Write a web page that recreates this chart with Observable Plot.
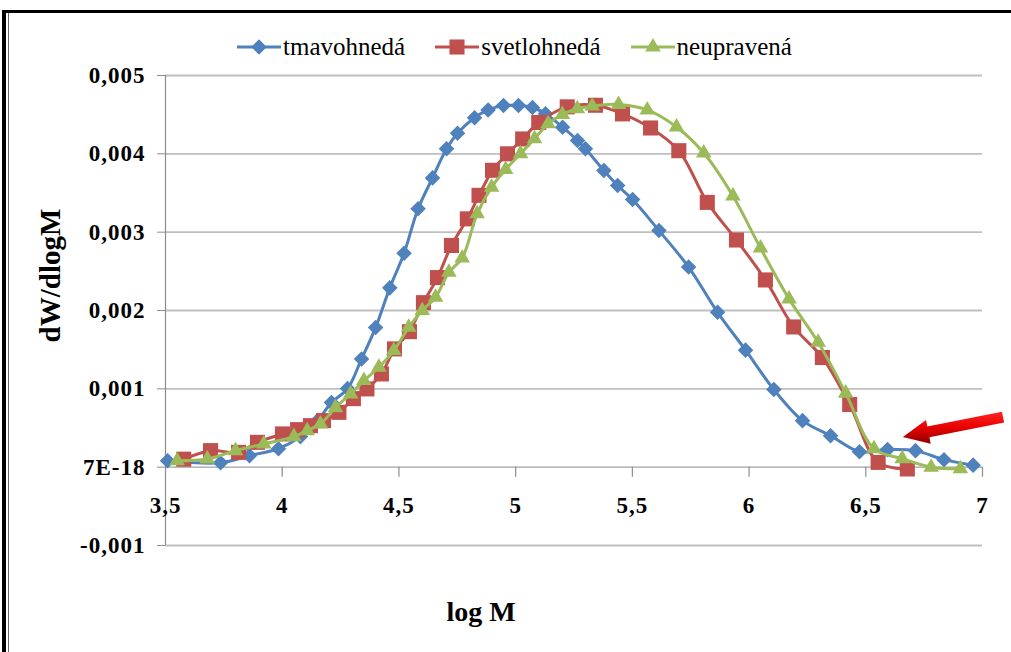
<!DOCTYPE html>
<html>
<head>
<meta charset="utf-8">
<script src="https://cdn.jsdelivr.net/npm/d3@7"></script>
<script src="https://cdn.jsdelivr.net/npm/@observablehq/plot@0.6"></script>
<style>
  html, body { margin: 0; padding: 0; background: #fff; }
  #wrap { position: relative; width: 1011px; height: 652px; overflow: hidden; background: #fff;
          font-family: "Liberation Serif", "Times New Roman", Times, "DejaVu Serif", "Noto Serif", serif; }
  #legendBox { position: relative; height: 60px; }
  #legend { position: absolute; top: 32px; left: 237px; height: 30px; display: flex; align-items: center;
            font-size: 25px; color: #000; white-space: nowrap; }
  .item { display: flex; align-items: center; margin-right: 30px; }
  .item svg { display: block; margin-right: 2px; }
  #chart svg { display: block; }
  #chart svg text { font-family: "Liberation Serif", "Times New Roman", Times, "DejaVu Serif", "Noto Serif", serif; }
  #chart svg .ticklab text { letter-spacing: 1px; }
  .bTop { position: absolute; top: 10px; left: 2px; right: 0; height: 3px; background: #000; }
  .bLeft { position: absolute; top: 10px; left: 2px; bottom: 0; width: 4px; background: #000; }
  .bLeft2 { position: absolute; top: 13px; left: 8px; bottom: 0; width: 1px; background: #666; }
</style>
</head>
<body>
<div id="wrap">
  <div id="legendBox"><div id="legend"></div></div>
  <div id="chart"></div>
  <div class="bTop"></div>
  <div class="bLeft"></div>
  <div class="bLeft2"></div>
</div>
<script>
// ---- data ----
const seriesNames = ["tmavohnedá", "svetlohnedá", "neupravená"];
const seriesColors = ["#4F81BD", "#C0504D", "#9BBB59"];
const seriesSymbols = ["diamond2", "square", "triangle"];

const blueX = [3.509, 3.736, 3.860, 3.984, 4.078, 4.151, 4.211, 4.280, 4.340, 4.400, 4.461, 4.522, 4.582, 4.644, 4.704, 4.751, 4.824, 4.882, 4.948, 5.012, 5.072, 5.128, 5.201, 5.265, 5.299, 5.378, 5.437, 5.501, 5.614, 5.741, 5.865, 5.985, 6.106, 6.229, 6.349, 6.473, 6.593, 6.713, 6.835, 6.960];
const blueY = [0.000083, 0.000057, 0.000147, 0.000236, 0.00039, 0.000594, 0.000824, 0.001003, 0.001382, 0.001782, 0.002289, 0.002731, 0.003298, 0.003693, 0.004064, 0.004263, 0.00446, 0.00456, 0.004617, 0.004617, 0.004591, 0.004511, 0.00434, 0.00417, 0.004064, 0.003787, 0.003595, 0.003416, 0.00302, 0.002554, 0.001977, 0.001494, 0.000992, 0.000594, 0.000402, 0.000198, 0.000224, 0.000211, 0.000096, 0.000026];

const redX = [3.578, 3.693, 3.813, 3.894, 4.001, 4.066, 4.121, 4.177, 4.243, 4.305, 4.363, 4.425, 4.481, 4.545, 4.605, 4.665, 4.725, 4.793, 4.843, 4.901, 4.965, 5.030, 5.099, 5.221, 5.342, 5.458, 5.578, 5.699, 5.821, 5.946, 6.070, 6.191, 6.314, 6.431, 6.553, 6.678];
const redY = [0.000102, 0.000211, 0.000189, 0.000317, 0.000424, 0.000479, 0.00053, 0.000594, 0.0007, 0.000875, 0.000999, 0.00119, 0.00151, 0.00173, 0.0021, 0.00242, 0.00283, 0.00317, 0.00347, 0.00379, 0.0040, 0.00419, 0.0044, 0.0046, 0.00462, 0.00451, 0.00433, 0.00404, 0.00338, 0.0029, 0.00239, 0.00179, 0.0014, 0.0008, 0.000061, -0.000023];

const greenX = [3.550, 3.679, 3.800, 3.921, 4.050, 4.107, 4.164, 4.228, 4.293, 4.350, 4.414, 4.478, 4.542, 4.600, 4.657, 4.714, 4.771, 4.835, 4.897, 4.957, 5.021, 5.081, 5.139, 5.200, 5.264, 5.328, 5.441, 5.564, 5.689, 5.806, 5.931, 6.049, 6.171, 6.296, 6.414, 6.535, 6.656, 6.780, 6.905];
const greenY = [0.000083, 0.000105, 0.000211, 0.000296, 0.00039, 0.000466, 0.000552, 0.00076, 0.000935, 0.001105, 0.001275, 0.001488, 0.001785, 0.001999, 0.002169, 0.002488, 0.002669, 0.003234, 0.003573, 0.0038, 0.004, 0.004192, 0.004383, 0.004502, 0.004575, 0.00461, 0.00463, 0.00456, 0.004342, 0.00401, 0.003461, 0.002797, 0.002148, 0.001594, 0.000945, 0.000236, 0.000109, 0.0, -0.000019];

const xDomain = [3.5, 7];
const yDomain = [-0.001, 0.005];
const xTicks = [3.5, 4, 4.5, 5, 5.5, 6, 6.5, 7];
const xTickLabels = ["3,5", "4", "4,5", "5", "5,5", "6", "6,5", "7"];
const yTicks = [-0.001, 0, 0.001, 0.002, 0.003, 0.004, 0.005];
const yTickLabels = ["-0,001", "7E-18", "0,001", "0,002", "0,003", "0,004", "0,005"];
const xTitle = "log M";
const yTitle = "dW/dlogM";
// annotation arrow (data units): from tail to tip
const arrowTail = [7.09, 0.000632];
const arrowTip = [6.661, 0.00038];

// ---- build ----
const serifStack = "'Liberation Serif', 'Times New Roman', Times, 'DejaVu Serif', 'Noto Serif', serif";
const seriesXs = [blueX, redX, greenX];
const seriesYs = [blueY, redY, greenY];
const seriesR = [7, 8.5, 5.8];
const seriesData = seriesNames.map((name, s) =>
  seriesXs[s].map((x, i) => ({series: name, x, y: seriesYs[s][i]})));

// legend
const symbolMap = {diamond2: d3.symbolDiamond2, square: d3.symbolSquare, triangle: d3.symbolTriangle};
const legend = d3.select("#legend");
seriesNames.forEach((name, s) => {
  const item = legend.append("div").attr("class", "item");
  const sv = item.append("svg").attr("width", 44).attr("height", 22);
  sv.append("line").attr("x1", 0).attr("x2", 44).attr("y1", 11).attr("y2", 11)
    .attr("stroke", seriesColors[s]).attr("stroke-width", 3);
  sv.append("path").attr("transform", "translate(22,11)")
    .attr("d", d3.symbol(symbolMap[seriesSymbols[s]], Math.PI * seriesR[s] * seriesR[s])())
    .attr("fill", seriesColors[s]);
  item.append("span").style("font-family", serifStack).text(name);
});

const arrowMark = (index, scales) => {
  const x1 = scales.x(arrowTail[0]), y1 = scales.y(arrowTail[1]);
  const x2 = scales.x(arrowTip[0]), y2 = scales.y(arrowTip[1]);
  const dx = x2 - x1, dy = y2 - y1, len = Math.hypot(dx, dy);
  const ux = dx / len, uy = dy / len, nx = -uy, ny = ux;
  const headLen = 26, headW = 12, shaftW = 5.5;
  const bx = x2 - ux * headLen, by = y2 - uy * headLen;
  const pts = [
    [x1 + nx * shaftW, y1 + ny * shaftW],
    [bx + nx * shaftW, by + ny * shaftW],
    [bx + nx * headW, by + ny * headW],
    [x2, y2],
    [bx - nx * headW, by - ny * headW],
    [bx - nx * shaftW, by - ny * shaftW],
    [x1 - nx * shaftW, y1 - ny * shaftW]
  ];
  const g = d3.create("svg:g");
  const grad = g.append("defs").append("linearGradient").attr("id", "arrowGrad")
    .attr("x1", 0).attr("y1", 0).attr("x2", 0).attr("y2", 1);
  grad.append("stop").attr("offset", "0%").attr("stop-color", "#FF2424");
  grad.append("stop").attr("offset", "50%").attr("stop-color", "#E80000");
  grad.append("stop").attr("offset", "100%").attr("stop-color", "#8E0000");
  g.append("path").attr("d", "M" + pts.map(p => p.join(",")).join("L") + "Z")
    .attr("fill", "url(#arrowGrad)");
  return g.node();
};

const seriesMarks = [];
seriesData.forEach((rows, s) => {
  seriesMarks.push(Plot.line(rows, {x: "x", y: "y", stroke: seriesColors[s], strokeWidth: 3, curve: "catmull-rom"}));
  seriesMarks.push(Plot.dot(rows, {x: "x", y: "y", symbol: seriesSymbols[s], r: seriesR[s], fill: seriesColors[s], stroke: "none"}));
});

const chart = Plot.plot({
  width: 1011,
  height: 592,
  marginTop: 15,
  marginBottom: 107,
  marginLeft: 165,
  marginRight: 29,
  style: {fontFamily: serifStack, fontSize: "23px", fontWeight: "bold", color: "#000", background: "transparent", overflow: "visible"},
  x: {domain: xDomain, axis: null},
  y: {domain: yDomain, axis: null},
  marks: [
    Plot.ruleY(yTicks.filter(d => d !== 0), {stroke: "#BFBFBF", strokeWidth: 1.8}),
    Plot.ruleY([0], {stroke: "#A0A0A0", strokeWidth: 1.3}),
    Plot.ruleX([xDomain[0]], {stroke: "#8C8C8C", strokeWidth: 1.2}),
    Plot.ruleX(xTicks.slice(1), {x: d => d, y1: 0, y2: 0, insetBottom: -10, stroke: "#8C8C8C", strokeWidth: 1.2}),
    Plot.axisY(yTicks, {tickFormat: d => yTickLabels[yTicks.indexOf(d)], tickSize: 8, tickPadding: 12, stroke: "#8C8C8C", fill: "#000", label: null, fontSize: 23, fontWeight: "bold", fontFamily: serifStack, className: "ticklab"}),
    Plot.text(xTicks, {x: d => d, frameAnchor: "bottom", lineAnchor: "middle", dy: -40, text: (d, i) => xTickLabels[i], fontSize: 23, fontWeight: "bold", fill: "#000", fontFamily: serifStack, className: "ticklab"}),
    ...seriesMarks,
    arrowMark,
    Plot.text([yTitle], {text: d => d, frameAnchor: "left", textAnchor: "middle", lineAnchor: "middle", dx: -115, dy: -35, rotate: -90, fontSize: 29, fontWeight: "bold", fill: "#000", fontFamily: serifStack}),
    Plot.text([xTitle], {text: d => d, frameAnchor: "bottom", textAnchor: "middle", lineAnchor: "middle", dx: -93, dy: 67, fontSize: 28, fontWeight: "bold", fill: "#000", fontFamily: serifStack})
  ]
});
document.getElementById("chart").appendChild(chart);
</script>
</body>
</html>
